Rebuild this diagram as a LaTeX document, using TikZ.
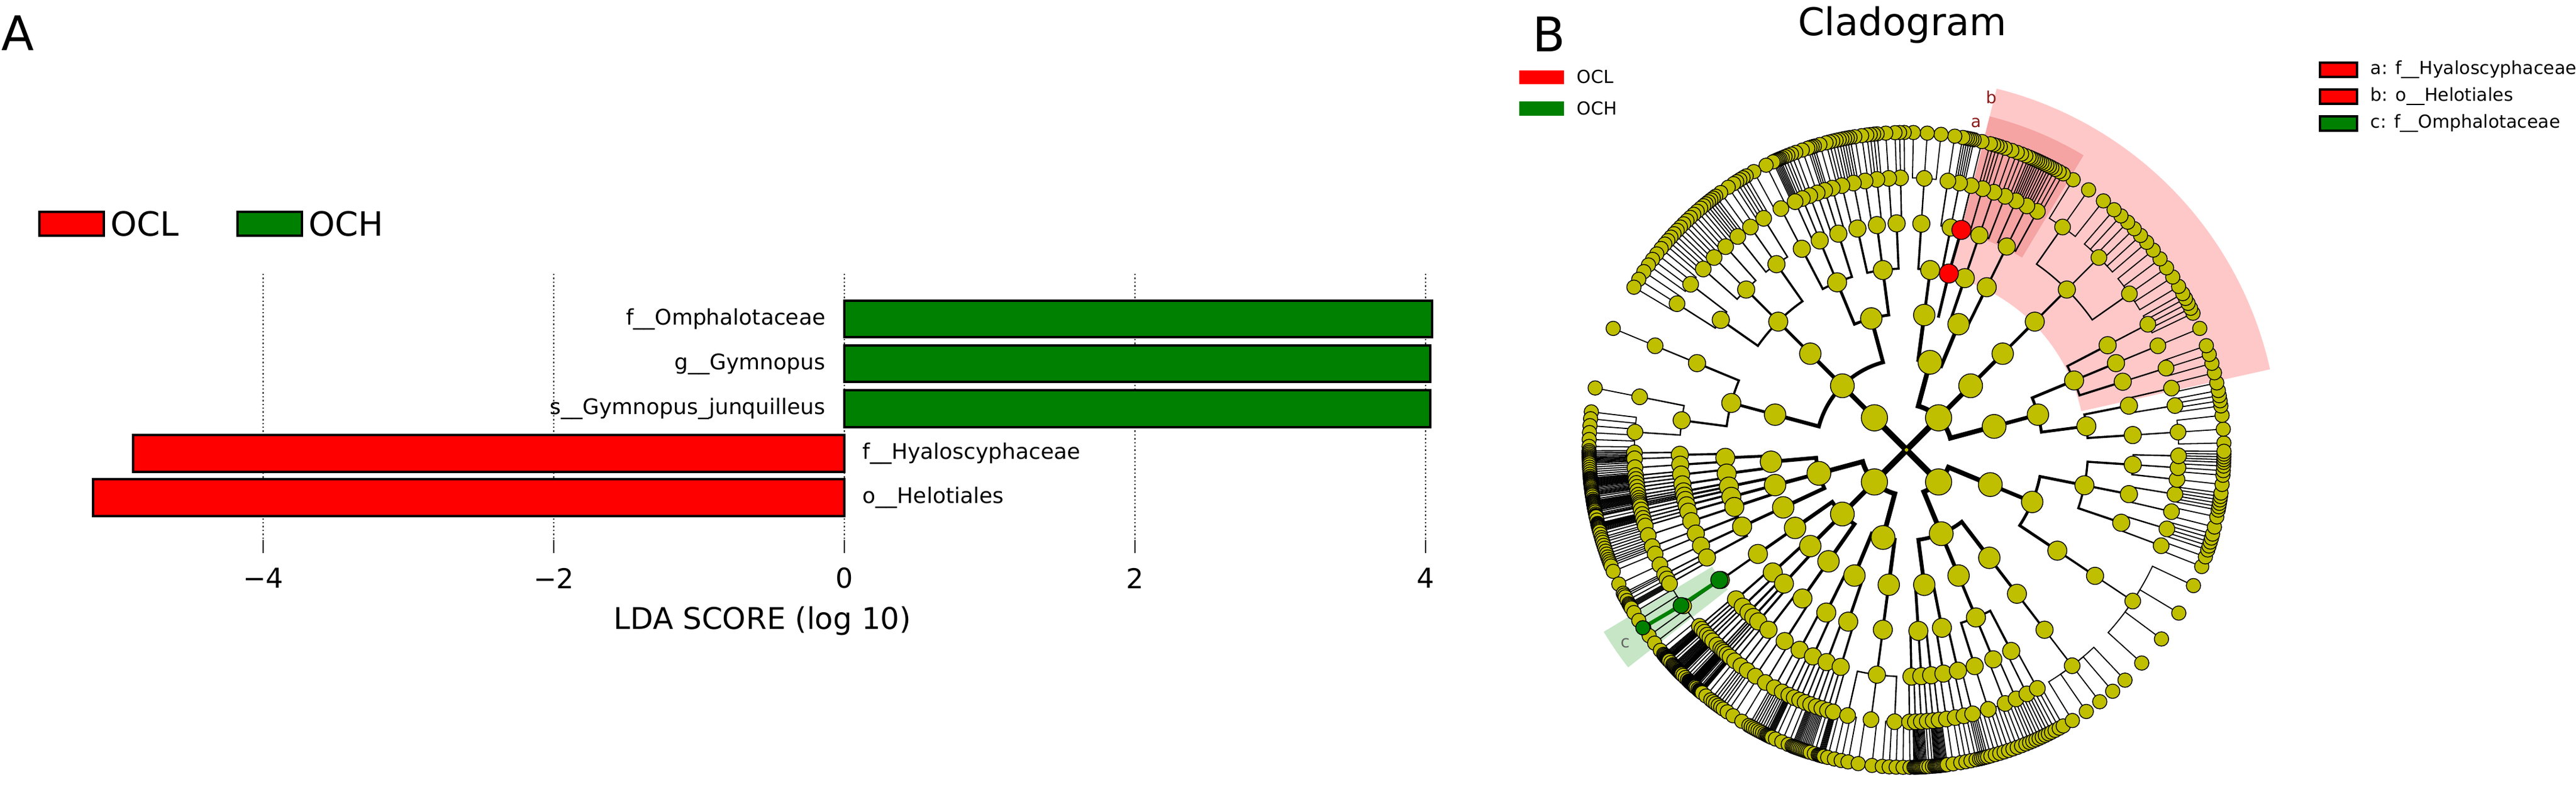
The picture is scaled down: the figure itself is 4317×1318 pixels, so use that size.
\documentclass[tikz,border=0pt]{standalone}
\usepackage{fontspec}
\setmainfont{DejaVu Sans}
\definecolor{ocl}{HTML}{FF0000}
\definecolor{och}{HTML}{008000}
\definecolor{oliv}{HTML}{BFBF00}
\definecolor{pinkb}{HTML}{FFC8C8}
\definecolor{pinka}{HTML}{F5A3A3}
\definecolor{greenband}{HTML}{C6E6C6}
\definecolor{lblred}{HTML}{8B1A1A}
\tikzset{
  bar/.style={draw=black,line width=1pt},
  grid/.style={densely dotted,line width=0.6pt},
  tick/.style={line width=0.6pt},
  lbl/.style={font=\fontsize{9}{10}\selectfont,inner sep=0pt},
  cnode/.style={circle,draw=black,line width=0.35pt,fill=oliv,inner sep=0pt},
}
% #1 = 0: draw connectors, 1: draw nodes
\newcommand{\mytreepass}[1]{%
  \pgfmathsetseed{4}%
  \gdef\curlist{0/360}%
  \foreach \k in {1,...,7}{
    \pgfmathsetmacro\rin{19*(\k-1)}
    \pgfmathsetmacro\rout{19*\k}
    \pgfmathsetmacro\llw{{2.5,2,1.6,1.2,0.9,0.6,0.45}[\k-1]}
    \pgfmathsetmacro\nsz{{11,10,9,8,7.2,6.6,6}[\k-1]}
    \pgfmathsetmacro\mnn{{4,1,1,1,1,1,1}[\k-1]}
    \pgfmathsetmacro\spr{{1,3,3,2.6,2.6,3,6}[\k-1]}
    \gdef\nextlist{}
    \foreach \aa/\bb in \curlist{
      \pgfmathtruncatemacro\mm{\mnn+floor(rnd*\spr)}
      \pgfmathsetmacro\ppa{(\aa+\bb)/2}
      \pgfmathsetmacro\www{(\bb-\aa)/\mm}
      \foreach \j in {1,...,\mm}{
        \pgfmathsetmacro\cca{\aa+(\j-0.5)*\www}
        \pgfmathsetmacro\ccb{\aa+\j*\www}
        \pgfmathsetmacro\ccs{\aa+(\j-1)*\www}
        \ifnum#1=0
          \ifdim\rin pt=0pt
            \draw[line width=\llw pt] (0,0) -- (\cca:\rout pt);
          \else
            \draw[line width=\llw pt] (\ppa:\rin pt) arc[start angle=\ppa,end angle=\cca,radius=\rin pt] -- (\cca:\rout pt);
          \fi
        \else
          \node[cnode,minimum size=\nsz pt] at (\cca:\rout pt) {};
        \fi
        \xdef\nextlist{\nextlist\ifx\nextlist\empty\else,\fi\ccs/\ccb}
      }
    }
    \global\let\curlist\nextlist
  }%
}
\begin{document}
\begin{tikzpicture}[x=0.25pt,y=-0.25pt]
\useasboundingbox (0,0) rectangle (4317,1318);
% ---------- Panel A ----------
\node[anchor=north west,inner sep=0pt,font=\fontsize{20}{22}\selectfont] (A) at (2,25) {A};
\node[bar,fill=ocl,minimum width=27pt,minimum height=10pt,inner sep=0pt] (lgr) at (119.5,375) {};
\node[anchor=west,inner sep=0pt,font=\fontsize{14}{16}\selectfont] (lgrt) at (185,375) {OCL};
\node[bar,fill=och,minimum width=27pt,minimum height=10pt,inner sep=0pt] (lgg) at (451.5,375) {};
\node[anchor=west,inner sep=0pt,font=\fontsize{14}{16}\selectfont] (lggt) at (517,375) {OCH};
\foreach \v/\xx/\ttl in {m4/441/−4,m2/928/−2,z/1415/0,p2/1902/2,p4/2389/4}{
  \coordinate (gt\v) at (\xx,459);
  \coordinate (gb\v) at (\xx,905);
  \coordinate (tb\v) at (\xx,927);
  \draw[grid] (gt\v) -- (gb\v);
  \draw[tick] (gb\v) -- (tb\v);
  \node[inner sep=0pt,font=\fontsize{11.5}{13}\selectfont] (tl\v) at (\xx,969) {\ttl};
}
\node[inner sep=0pt,font=\fontsize{12.5}{14}\selectfont] (xlab) at (1278,1041) {LDA SCORE (log 10)};
\draw[bar,fill=och] (1415,504) rectangle (2400,565);
\draw[bar,fill=och] (1415,579) rectangle (2397,640);
\draw[bar,fill=och] (1415,654) rectangle (2397,716);
\draw[bar,fill=ocl] (223,729) rectangle (1415,791);
\draw[bar,fill=ocl] (156,803) rectangle (1415,865);
\node[lbl,anchor=east] (l1) at (1384,535) {f\_\_Omphalotaceae};
\node[lbl,anchor=east] (l2) at (1384,610) {g\_\_Gymnopus};
\node[lbl,anchor=east] (l3) at (1384,685) {s\_\_Gymnopus\_junquilleus};
\node[lbl,anchor=west] (l4) at (1445,760) {f\_\_Hyaloscyphaceae};
\node[lbl,anchor=west] (l5) at (1445,834) {o\_\_Helotiales};
% ---------- Panel B ----------
\node[anchor=north west,inner sep=0pt,font=\fontsize{20}{22}\selectfont] (B) at (2568,27) {B};
\node[inner sep=0pt,font=\fontsize{16}{18}\selectfont] (title) at (3188,42) {Cladogram};
\fill[ocl] (2546,118) rectangle (2621,141);
\node[anchor=west,inner sep=0pt,font=\fontsize{7.5}{9}\selectfont] (bocl) at (2642,129) {OCL};
\fill[och] (2546,170) rectangle (2621,194);
\node[anchor=west,inner sep=0pt,font=\fontsize{7.5}{9}\selectfont] (boch) at (2642,182) {OCH};
\draw[fill=ocl,line width=0.8pt] (3888,105) rectangle (3950,129);
\node[anchor=west,inner sep=0pt,font=\fontsize{7.5}{9}\selectfont] (lga) at (3972,117) {a: f\_\_Hyaloscyphaceae};
\draw[fill=ocl,line width=0.8pt] (3888,150) rectangle (3950,174);
\node[anchor=west,inner sep=0pt,font=\fontsize{7.5}{9}\selectfont] (lgb) at (3972,162) {b: o\_\_Helotiales};
\draw[fill=och,line width=0.8pt] (3888,195) rectangle (3950,219);
\node[anchor=west,inner sep=0pt,font=\fontsize{7.5}{9}\selectfont] (lgc) at (3972,207) {c: f\_\_Omphalotaceae};
\begin{scope}[shift={(3195,754)}]
  \fill[pinkb] (12.5:75pt) arc[start angle=12.5,end angle=76,radius=75pt] -- (76:156pt) arc[start angle=76,end angle=12.5,radius=156pt] -- cycle;
  \fill[pinka] (59:94pt) arc[start angle=59,end angle=76,radius=94pt] -- (76:144pt) arc[start angle=76,end angle=59,radius=144pt] -- cycle;
  \fill[greenband] (211:95pt) arc[start angle=211,end angle=218,radius=95pt] -- (218:148pt) arc[start angle=218,end angle=211,radius=148pt] -- cycle;
  \node[inner sep=0pt,text=lblred,font=\fontsize{7}{8}\selectfont] (labb) at (76.5:152pt) {b};
  \node[inner sep=0pt,text=lblred,font=\fontsize{7}{8}\selectfont] (laba) at (78:140pt) {a};
  \node[inner sep=0pt,text=black!60,font=\fontsize{7}{8}\selectfont] (labc) at (214.5:143pt) {c};
  \mytreepass{0}
  \draw[line width=1.2pt] (76.5:57pt) -- (76.5:76pt) -- (76:95pt);
  \draw[och,line width=1.6pt] (214.8:95.5pt) -- (214.6:114.75pt) -- (214:133.25pt);
  \mytreepass{1}
  \node[circle,fill=oliv,inner sep=0pt,minimum size=1.5pt] (root) at (0,0) {};
  \node[cnode,fill=ocl,minimum size=8pt] (ord) at (76.5:76pt) {};
  \node[cnode,fill=ocl,minimum size=8pt] (fam) at (76:95pt) {};
  \node[cnode,fill=och,minimum size=7.2pt] (g1) at (214.8:95.5pt) {};
  \node[cnode,fill=och,minimum size=6.6pt] (g2) at (214.6:114.75pt) {};
  \node[cnode,fill=och,minimum size=6pt] (g3) at (214:133.25pt) {};
\end{scope}
\end{tikzpicture}
\end{document}
